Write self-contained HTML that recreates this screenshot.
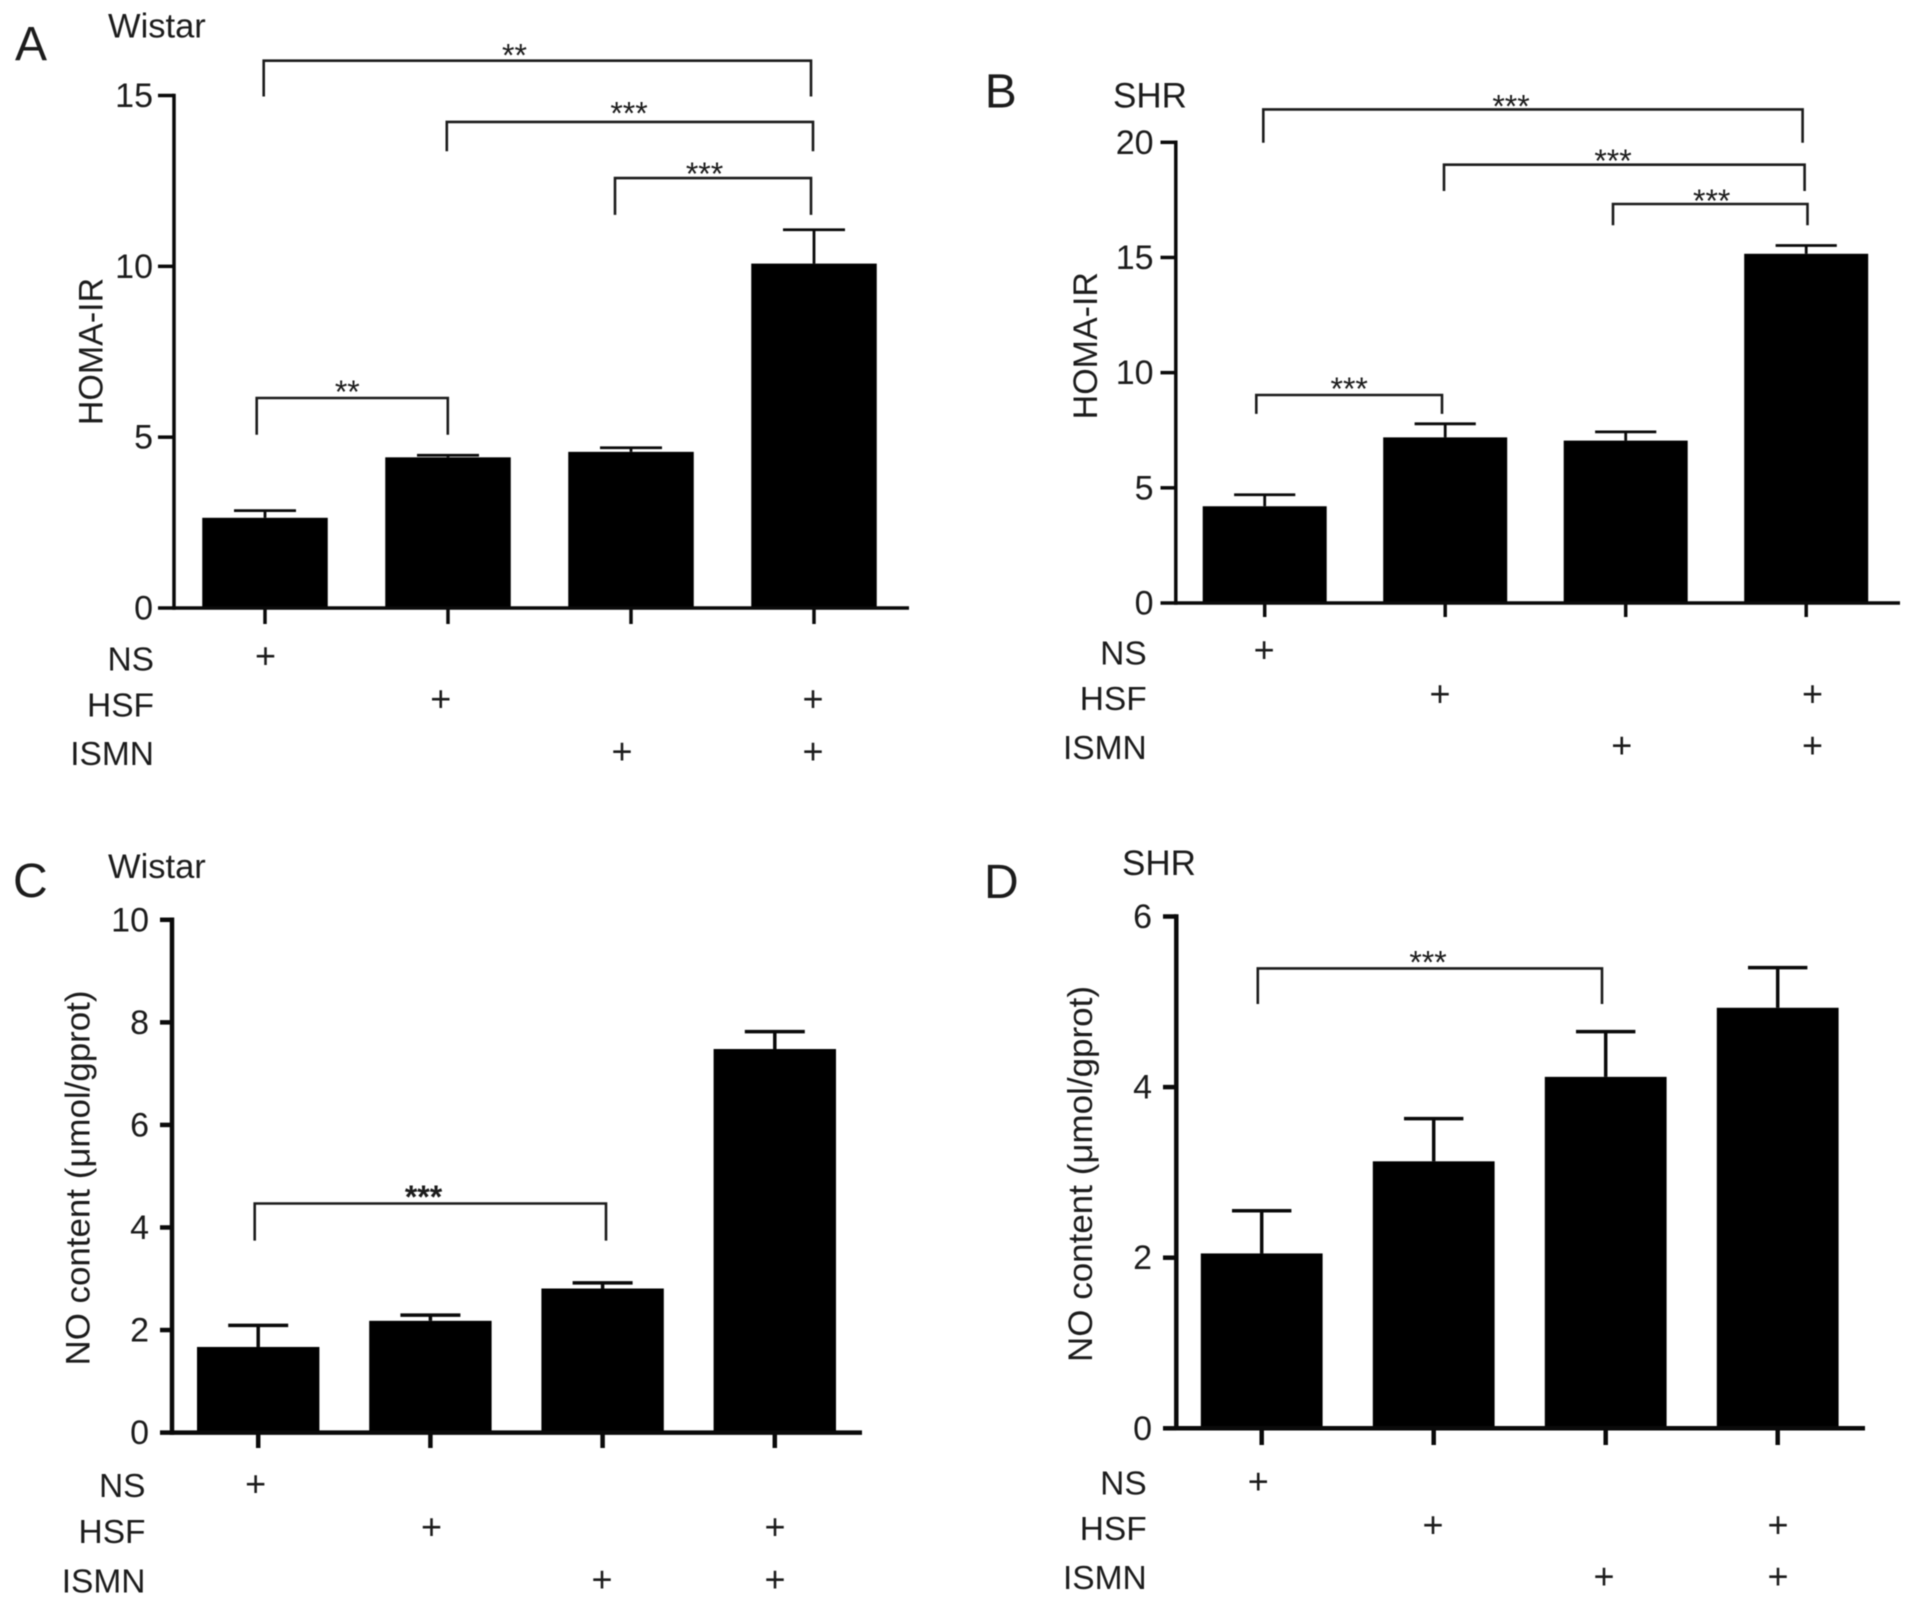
<!DOCTYPE html>
<html lang="en">
<head>
<meta charset="utf-8">
<title>HOMA-IR and NO content bar charts</title>
<style>
html,body{margin:0;padding:0;background:#fff;}
svg{display:block;filter:blur(0.6px);}
text{font-family:"Liberation Sans",Arial,sans-serif;fill:#1c1c1c;}
.letter{font-size:48px;}
.strain{font-size:34.5px;}
.shr{font-size:35px;}
.ytitle{font-size:34px;}
.row{font-size:33.5px;text-anchor:end;}
.plus{font-size:36px;text-anchor:middle;}
.tick{font-size:34px;text-anchor:end;}
.star{font-size:32px;text-anchor:middle;}
.br{fill:none;stroke:#1c1c1c;stroke-width:2.6;}
</style>
</head>
<body>
<svg id="figure" xmlns="http://www.w3.org/2000/svg" width="1913" height="1606" viewBox="0 0 1913 1606">
<rect x="0" y="0" width="1913" height="1606" fill="#fff"/>

<g id="panel-a">
  <text class="letter" x="15" y="60">A</text>
  <text class="strain" x="108" y="37.3">Wistar</text>
  <text class="ytitle" transform="translate(102.5,351.5) rotate(-90)" text-anchor="middle">HOMA-IR</text>
  <path class="br" d="M263.7 96.5V60.7H811V96.5"/>
  <path class="br" d="M446.8 151.2V121.9H813V151.2"/>
  <path class="br" d="M615 214.9V178.1H811V214.9"/>
  <path class="br" d="M256.7 434.8V398H447.8V434.8"/>
  <text class="star" x="514.5" y="66.7">**</text>
  <text class="star" x="629" y="124.4">***</text>
  <text class="star" x="704.5" y="185">***</text>
  <text class="star" x="347.3" y="403">**</text>
  <text class="row" x="154" y="670.5">NS</text>
  <text class="row" x="154" y="716.5">HSF</text>
  <text class="row" x="154" y="765">ISMN</text>
  <text class="plus" x="265.5" y="668">+</text>
  <text class="plus" x="440.8" y="711">+</text>
  <text class="plus" x="813" y="711">+</text>
  <text class="plus" x="622" y="763.5">+</text>
  <text class="plus" x="813" y="763.5">+</text>
</g>

<g id="panel-b">
  <text class="letter" x="984.7" y="107.4">B</text>
  <text class="strain shr" x="1113" y="107.4">SHR</text>
  <text class="ytitle" transform="translate(1096.8,345.7) rotate(-90)" text-anchor="middle">HOMA-IR</text>
  <path class="br" d="M1263.3 142.8V109.4H1802.6V142.8"/>
  <path class="br" d="M1444 191V164.7H1804.6V191"/>
  <path class="br" d="M1613 225.3V204H1807.5V225.3"/>
  <path class="br" d="M1256.3 413.9V395H1442V413.9"/>
  <text class="star" x="1511" y="117.5">***</text>
  <text class="star" x="1613" y="172.2">***</text>
  <text class="star" x="1711.7" y="212">***</text>
  <text class="star" x="1349.2" y="400">***</text>
  <text class="row" x="1146.7" y="664.5">NS</text>
  <text class="row" x="1146.7" y="710">HSF</text>
  <text class="row" x="1146.7" y="759">ISMN</text>
  <text class="plus" x="1264.2" y="662">+</text>
  <text class="plus" x="1440" y="705.8">+</text>
  <text class="plus" x="1812.5" y="705.8">+</text>
  <text class="plus" x="1621.8" y="757.5">+</text>
  <text class="plus" x="1812.5" y="757.5">+</text>
</g>

<g id="panel-c">
  <text class="letter" x="13" y="897.2">C</text>
  <text class="strain" x="108" y="878.2">Wistar</text>
  <text class="ytitle" transform="translate(89.6,1178) rotate(-90)" text-anchor="middle" textLength="375" lengthAdjust="spacingAndGlyphs">NO content (μmol/gprot)</text>
  <path class="br" d="M254.7 1240.6V1203.5H606V1240.6"/>
  <text class="star" font-weight="bold" x="423.5" y="1208">***</text>
  <text class="row" x="145.5" y="1497">NS</text>
  <text class="row" x="145.5" y="1543">HSF</text>
  <text class="row" x="145.5" y="1592.5">ISMN</text>
  <text class="plus" x="255.7" y="1496">+</text>
  <text class="plus" x="431.5" y="1539">+</text>
  <text class="plus" x="775" y="1539">+</text>
  <text class="plus" x="602" y="1591.5">+</text>
  <text class="plus" x="775" y="1591.5">+</text>
</g>

<g id="panel-d">
  <text class="letter" x="984" y="898.2">D</text>
  <text class="strain shr" x="1122" y="875.2">SHR</text>
  <text class="ytitle" transform="translate(1092,1174) rotate(-90)" text-anchor="middle" textLength="376" lengthAdjust="spacingAndGlyphs">NO content (μmol/gprot)</text>
  <path class="br" d="M1257.8 1004V968.4H1602V1004"/>
  <text class="star" x="1428" y="973.5">***</text>
  <text class="row" x="1146.7" y="1494.7">NS</text>
  <text class="row" x="1146.7" y="1539.9">HSF</text>
  <text class="row" x="1146.7" y="1589">ISMN</text>
  <text class="plus" x="1258.3" y="1493.7">+</text>
  <text class="plus" x="1433" y="1537">+</text>
  <text class="plus" x="1778" y="1537">+</text>
  <text class="plus" x="1604" y="1588.5">+</text>
  <text class="plus" x="1778" y="1588.5">+</text>
</g>
</svg>

<script>
// Chart data
const groups = ['NS', 'HSF', 'ISMN', 'HSF+ISMN'];

const homaWistarMeans = [2.64, 4.41, 4.57, 10.08];
const homaWistarErrors = [0.21, 0.06, 0.12, 0.99];
const homaWistarTicks = [0, 5, 10, 15];

const homaShrMeans = [4.2, 7.19, 7.05, 15.16];
const homaShrErrors = [0.5, 0.59, 0.38, 0.36];
const homaShrTicks = [0, 5, 10, 15, 20];

const noWistarMeans = [1.67, 2.18, 2.81, 7.48];
const noWistarErrors = [0.42, 0.11, 0.11, 0.34];
const noWistarTicks = [0, 2, 4, 6, 8, 10];

const noShrMeans = [2.05, 3.13, 4.12, 4.93];
const noShrErrors = [0.5, 0.5, 0.53, 0.47];
const noShrTicks = [0, 2, 4, 6];

// Panel frames (axis geometry only)
const frameA = {id:'panel-a', axisX:174, y0:608, yTop:95.5, yMax:15, xFirst:265, xStep:183, barW:125.5, capHalf:31, tickLeft:158, axisEnd:909, xTickEnd:624, labelRight:153, sw:3.5, esw:2.8};
const frameB = {id:'panel-b', axisX:1175.8, y0:603, yTop:142.3, yMax:20, xFirst:1264.7, xStep:180.5, barW:124, capHalf:30.6, tickLeft:1160.5, axisEnd:1900, xTickEnd:617, labelRight:1153.6, sw:3.5, esw:2.8};
const frameC = {id:'panel-c', axisX:172, y0:1432.6, yTop:919.8, yMax:10, xFirst:258.2, xStep:172.2, barW:122.4, capHalf:30, tickLeft:160, axisEnd:862, xTickEnd:1448, labelRight:149, sw:4.5, esw:3.5};
const frameD = {id:'panel-d', axisX:1176.3, y0:1428.3, yTop:916.5, yMax:6, xFirst:1261.7, xStep:172, barW:121.8, capHalf:29.7, tickLeft:1163, axisEnd:1865, xTickEnd:1445, labelRight:1152, sw:4.5, esw:3.5};

const SVG_NS = 'http://www.w3.org/2000/svg';

function drawPanel(frame, means, errors, ticks) {
  const root = document.getElementById(frame.id);
  const yScale = v => frame.y0 - (v / frame.yMax) * (frame.y0 - frame.yTop);
  const xScale = i => frame.xFirst + i * frame.xStep;

  const seg = (x1, y1, x2, y2, w) => {
    const l = document.createElementNS(SVG_NS, 'line');
    l.setAttribute('x1', x1);
    l.setAttribute('y1', y1);
    l.setAttribute('x2', x2);
    l.setAttribute('y2', y2);
    l.setAttribute('stroke', '#0a0a0a');
    l.setAttribute('stroke-width', w);
    return l;
  };

  means.forEach((m, i) => {
    const cx = xScale(i);
    const top = yScale(m);
    const errTop = yScale(m + errors[i]);

    const stem = seg(cx, top, cx, errTop, frame.esw);
    
    
    root.appendChild(stem);

    const cap = seg(cx - frame.capHalf, errTop, cx + frame.capHalf, errTop, frame.esw);
    
    
    root.appendChild(cap);

    const bar = document.createElementNS(SVG_NS, 'rect');
    bar.setAttribute('x', cx - frame.barW / 2);
    bar.setAttribute('y', top);
    bar.setAttribute('width', frame.barW);
    bar.setAttribute('height', yScale(0) - top);
    bar.setAttribute('fill', '#000');
    
    
    root.appendChild(bar);

    const xTick = seg(cx, frame.y0, cx, frame.xTickEnd, frame.sw);
    
    
    root.appendChild(xTick);
  });

  const yAxis = seg(frame.axisX, frame.yTop - frame.sw / 2, frame.axisX, frame.y0 + frame.sw / 2, frame.sw);
  
  
  root.appendChild(yAxis);

  const xAxis = seg(frame.axisX, frame.y0, frame.axisEnd, frame.y0, frame.sw);
  
  
  root.appendChild(xAxis);

  ticks.forEach(t => {
    const y = yScale(t);
    const tick = seg(frame.tickLeft, y, frame.axisX, y, frame.sw);
    
    
    root.appendChild(tick);

    const label = document.createElementNS(SVG_NS, 'text');
    label.setAttribute('class', 'tick');
    label.setAttribute('x', frame.labelRight);
    label.setAttribute('y', y + 11.5);
    label.textContent = String(t);
    
    
    root.appendChild(label);
  });
}

drawPanel(frameA, homaWistarMeans, homaWistarErrors, homaWistarTicks);
drawPanel(frameB, homaShrMeans, homaShrErrors, homaShrTicks);
drawPanel(frameC, noWistarMeans, noWistarErrors, noWistarTicks);
drawPanel(frameD, noShrMeans, noShrErrors, noShrTicks);
</script>
</body>
</html>
